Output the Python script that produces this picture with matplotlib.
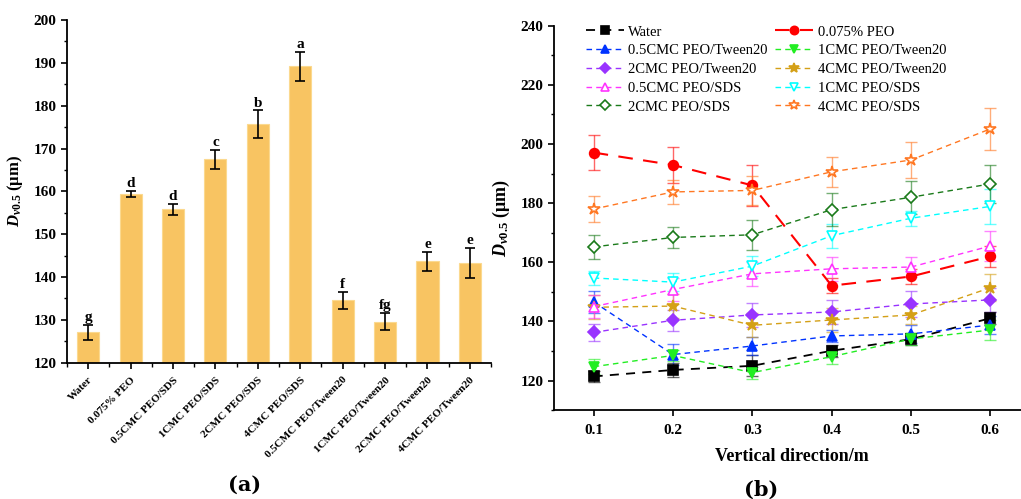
import numpy as np
import matplotlib.pyplot as plt
from matplotlib.ticker import MultipleLocator

plt.rcParams['font.family'] = ['Liberation Serif', 'DejaVu Serif']
plt.rcParams['mathtext.fontset'] = 'custom'
plt.rcParams['mathtext.rm'] = 'Liberation Serif:bold'
plt.rcParams['mathtext.it'] = 'Liberation Serif:italic:bold'
plt.rcParams['mathtext.bf'] = 'Liberation Serif:bold'

# ---- panel (a) data ----
groups = ['Water', '0.075% PEO', '0.5CMC PEO/SDS', '1CMC PEO/SDS', '2CMC PEO/SDS',
          '4CMC PEO/SDS', '0.5CMC PEO/Tween20', '1CMC PEO/Tween20',
          '2CMC PEO/Tween20', '4CMC PEO/Tween20']
bar_vals = [127.1, 159.5, 155.8, 167.5, 175.7, 189.2, 134.6, 129.6, 143.7, 143.3]
bar_err = [1.8, 0.7, 1.3, 2.2, 3.2, 3.4, 2.0, 2.0, 2.2, 3.5]
letters = ['g', 'd', 'd', 'c', 'b', 'a', 'f', 'fg', 'e', 'e']

# ---- panel (b) data ----
heights = [0.1, 0.2, 0.3, 0.4, 0.5, 0.6]
water = [121.4, 123.6, 125.0, 130.1, 134.0, 141.1]
water_e = [1.8, 2.5, 3.5, 2.0, 2.0, 2.0]
peo = [197.1, 192.9, 186.0, 152.1, 155.2, 162.0]
peo_e = [6.0, 6.2, 7.0, 2.6, 2.6, 3.5]
tw05 = [146.6, 128.8, 131.7, 135.1, 135.8, 138.8]
tw05_e = [3.6, 3.6, 3.0, 2.0, 3.0, 3.0]
tw1 = [124.7, 128.5, 122.7, 128.1, 134.1, 137.1]
tw1_e = [2.5, 2.0, 2.0, 2.5, 2.0, 3.5]
tw2 = [136.3, 140.4, 142.2, 143.2, 145.9, 147.3]
tw2_e = [3.0, 3.5, 4.0, 4.0, 4.5, 4.0]
tw4 = [144.8, 145.2, 138.7, 140.5, 142.2, 151.4]
tw4_e = [4.0, 4.0, 4.0, 4.0, 3.0, 4.5]
sds05 = [145.0, 150.8, 156.1, 157.8, 158.4, 165.5]
sds05_e = [4.0, 4.0, 4.0, 4.0, 3.5, 5.0]
sds1 = [154.7, 153.3, 158.7, 169.0, 174.9, 178.9]
sds1_e = [2.5, 3.0, 3.5, 4.0, 2.5, 6.0]
sds2 = [165.2, 168.4, 169.3, 177.8, 182.0, 186.5]
sds2_e = [4.0, 3.5, 5.0, 5.5, 5.5, 6.5]
sds4 = [178.0, 183.8, 184.3, 190.6, 194.6, 205.1]
sds4_e = [4.5, 4.0, 5.0, 5.0, 6.0, 7.0]

fig = plt.figure(figsize=(10.21, 4.99), dpi=100)

# ================= (a) =================
ax1 = fig.add_axes([0.0656, 0.273, 0.4154, 0.687])
x = np.arange(len(groups))
ax1.bar(x, bar_vals, width=0.52, color='#F8C462', edgecolor='#FBD98F', linewidth=0.8,
        yerr=bar_err, error_kw=dict(ecolor='black', elinewidth=1.2, capsize=3.5, capthick=1.2))
for xi, v, e, t in zip(x, bar_vals, bar_err, letters):
    ax1.text(xi, v + e + 0.2, t, ha='center', va='bottom', fontsize=11, fontweight='bold')
ax1.set_xlim(-0.5, 9.5)
ax1.set_ylim(120, 200)
ax1.set_xticks(x)
ax1.set_xticklabels(groups, rotation=45, ha='right', rotation_mode='anchor',
                    fontsize=8, fontweight='bold')
ax1.xaxis.set_minor_locator(MultipleLocator(0.5))
ax1.yaxis.set_major_locator(MultipleLocator(10))
ax1.yaxis.set_minor_locator(MultipleLocator(5))
ax1.tick_params(axis='both', which='major', direction='out', length=4, width=1.2)
ax1.tick_params(axis='both', which='minor', direction='out', length=2.5, width=1.0)
ax1.tick_params(axis='x', which='minor', length=3)
ax1.tick_params(axis='x', which='major', pad=5)
for lab in ax1.get_yticklabels():
    lab.set_fontweight('bold')
    lab.set_fontsize(11)
ax1.spines['top'].set_visible(False)
ax1.spines['right'].set_visible(False)
ax1.spines['left'].set_linewidth(1.3)
ax1.spines['bottom'].set_linewidth(1.3)
ax1.set_ylabel(r'$\mathit{D}_{\mathit{v0.5}}$ (μm)', fontsize=12, fontweight='bold', labelpad=6)

# ================= (b) =================
ax2 = fig.add_axes([0.5426, 0.178, 0.4662, 0.7705])
series = [
    ('Water', water, water_e, 'black', 's', True, (0, (5, 4)), 1.3),
    ('0.075% PEO', peo, peo_e, '#FF0000', 'o', True, (0, (7, 5)), 1.5),
    ('0.5CMC PEO/Tween20', tw05, tw05_e, '#0033FF', '^', True, (0, (4, 3)), 1.0),
    ('1CMC PEO/Tween20', tw1, tw1_e, '#22EE22', 'v', True, (0, (4, 3)), 1.0),
    ('2CMC PEO/Tween20', tw2, tw2_e, '#9933FF', 'D', True, (0, (4, 3)), 1.0),
    ('4CMC PEO/Tween20', tw4, tw4_e, '#D4A017', '*', True, (0, (4, 3)), 1.0),
    ('0.5CMC PEO/SDS', sds05, sds05_e, '#FF33FF', '^', False, (0, (4, 3)), 1.0),
    ('1CMC PEO/SDS', sds1, sds1_e, '#00FFFF', 'v', False, (0, (4, 3)), 1.0),
    ('2CMC PEO/SDS', sds2, sds2_e, '#1A7A1A', 'D', False, (0, (4, 3)), 1.0),
    ('4CMC PEO/SDS', sds4, sds4_e, '#FF7722', '*', False, (0, (4, 3)), 1.0),
]
handles = []
for name, y, e, c, m, filled, ls, lw in series:
    ms = 9 if m == '*' else 7
    if m == 'D':
        ms = 6
    ax2.errorbar(heights, y, yerr=e, fmt='none', ecolor=c, alpha=0.6,
                 elinewidth=1.0, capsize=4, capthick=1.0, zorder=2)
    h, = ax2.plot(heights, y, linestyle=ls, color=c, linewidth=lw, marker=m,
                  markersize=ms, markerfacecolor=c if filled else 'white',
                  markeredgecolor=c, markeredgewidth=1.2, label=name, zorder=3)
    handles.append(h)

ax2.set_xlim(0.05, 0.65)
ax2.set_ylim(110, 240)
ax2.set_xticks(heights)
ax2.set_xticklabels(['0.1', '0.2', '0.3', '0.4', '0.5', '0.6'])
ax2.yaxis.set_major_locator(MultipleLocator(20))
ax2.yaxis.set_minor_locator(MultipleLocator(10))
ax2.tick_params(axis='both', which='major', direction='out', length=4, width=1.2, labelsize=11)
ax2.tick_params(axis='y', which='minor', direction='out', length=2.5, width=1.0)
ax2.tick_params(axis='x', which='major', pad=6)
for lab in ax2.get_xticklabels() + ax2.get_yticklabels():
    lab.set_fontweight('bold')
ax2.spines['top'].set_visible(False)
ax2.spines['right'].set_visible(False)
ax2.spines['left'].set_linewidth(1.3)
ax2.spines['bottom'].set_linewidth(1.3)
ax2.set_ylabel(r'$\mathit{D}_{\mathit{v0.5}}$ (μm)', fontsize=13, fontweight='bold', labelpad=6)
ax2.set_xlabel('Vertical direction/m', fontsize=13, fontweight='bold', labelpad=8)

# legend filled row by row: matplotlib fills columns, so reorder
order = [0, 2, 4, 6, 8, 1, 3, 5, 7, 9]
ax2.legend(handles=[handles[i] for i in order], ncol=2, loc='upper left',
           bbox_to_anchor=(0.04, 1.035), frameon=False, fontsize=10.5,
           handlelength=2.6, columnspacing=0.5, labelspacing=0.38,
           handletextpad=0.3, markerscale=0.85)

fig.text(0.24, 0.028, '(a)', ha='center', va='center', fontsize=15,
         family=['DejaVu Serif'], fontweight='bold')
fig.text(0.745, 0.018, '(b)', ha='center', va='center', fontsize=15,
         family=['DejaVu Serif'], fontweight='bold')

fig.savefig('out.png', dpi=100)
